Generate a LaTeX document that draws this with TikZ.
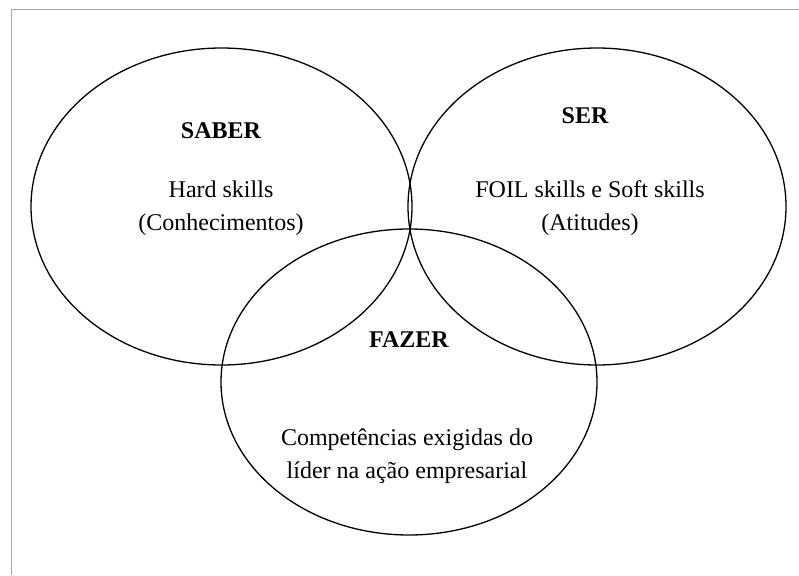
\documentclass[tikz,border=0pt]{standalone}
\usepackage{fontspec}
\setmainfont{Liberation Serif}
\begin{document}
\begin{tikzpicture}[x=1pt,y=-1pt,
  circ/.style={draw=black,line width=1.3pt},
  ttl/.style={anchor=base,font=\fontsize{24}{33}\selectfont\bfseries,inner sep=0pt},
  txt/.style={anchor=base,font=\fontsize{24}{33}\selectfont,inner sep=0pt,align=center}]
\useasboundingbox (0,0) rectangle (799,575);
\draw[gray!70,line width=1pt] (11,575) -- (11,10) -- (799,10);
\draw[circ] (221.5,206.5) ellipse [x radius=190.5, y radius=158.5];
\draw[circ] (597,206.5) ellipse [x radius=189, y radius=158.5];
\draw[circ] (409,382) ellipse [x radius=188, y radius=153];
\node[ttl] (saber) at (221,138) {SABER};
\node[txt] (hs) at (221,197) {Hard skills};
\node[txt] (hs2) at (221,230) {(Conhecimentos)};
\node[ttl] (ser) at (585,123) {SER};
\node[txt] (ss) at (590,197) {FOIL skills e Soft skills};
\node[txt] (ss2) at (590,230) {(Atitudes)};
\node[ttl] (fazer) at (409,347) {FAZER};
\node[txt] (c1) at (407,445) {Competências exigidas do};
\node[txt] (c2) at (407,478) {líder na ação empresarial};
\end{tikzpicture}
\end{document}
